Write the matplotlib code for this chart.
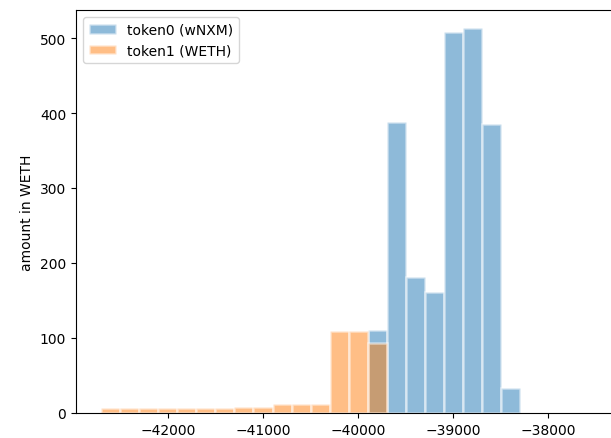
import numpy as np
import matplotlib
matplotlib.use("Agg")
import matplotlib.pyplot as plt

# Tick centers (bin width 200)
token0_ticks = [-39800, -39600, -39400, -39200, -39000, -38800, -38600, -38400]
token0_amounts = [110.5, 387.5, 181, 161.5, 507.5, 513, 386, 33.5]

token1_ticks = [-42600, -42400, -42200, -42000, -41800, -41600, -41400,
                -41200, -41000, -40800, -40600, -40400, -40200, -40000, -39800]
token1_amounts = [6, 6, 6, 6, 6, 6, 6, 7.3, 7.3, 11.7, 11.7, 11.7, 109.2, 109.2, 93]

bin_width = 200
labels = ["token0 (wNXM)", "token1 (WETH)"]
ylabel = "amount in WETH"

fig = plt.figure(figsize=(6.11, 4.39), dpi=100)
ax = fig.add_axes([76/611, (439-413.8)/439, (632.6-76)/611, (413.8-11)/439])

ax.bar(token0_ticks, token0_amounts, width=bin_width, alpha=0.5,
       color="C0", edgecolor="white", linewidth=1.8, label=labels[0])
ax.bar(token1_ticks, token1_amounts, width=bin_width, alpha=0.5,
       color="C1", edgecolor="white", linewidth=1.8, label=labels[1])

ax.set_xlim(-42966, -37114)
ax.set_ylim(0, 537.5)
ax.set_xticks([-42000, -41000, -40000, -39000, -38000])
ax.set_ylabel(ylabel)
ax.legend(loc="upper left")

fig.savefig("out.png", dpi=100)
